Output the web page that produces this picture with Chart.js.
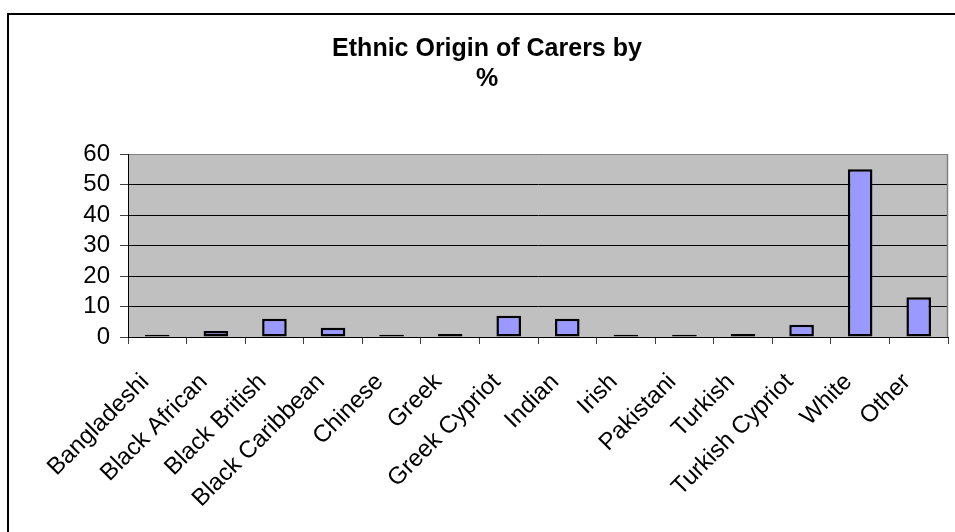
<!DOCTYPE html>
<html>
<head>
<meta charset="utf-8">
<script src="https://cdn.jsdelivr.net/npm/chart.js@4/dist/chart.umd.min.js"></script>
<style>
  html, body { margin: 0; padding: 0; background: #ffffff; }
  #wrap { width: 955px; height: 532px; position: relative; }
</style>
</head>
<body>
<div id="wrap"><canvas id="chart"></canvas></div>
<script>
// Ethnic groups of carers and their share in percent
const categories = ['Bangladeshi', 'Black African', 'Black British', 'Black Caribbean', 'Chinese', 'Greek',
  'Greek Cypriot', 'Indian', 'Irish', 'Pakistani', 'Turkish', 'Turkish Cypriot', 'White', 'Other'];
const percentages = [0.7, 2, 6, 3, 0.7, 1, 7, 6, 0.7, 0.7, 1, 4, 55, 13];
const titleLines = ['Ethnic Origin of Carers by', '%'];
const yTicks = [0, 10, 20, 30, 40, 50, 60];

const FONT = "'Liberation Sans', Arial, Helvetica, sans-serif";

// Grey plot background behind the grid, frame lines around the chart
const framePlugin = {
  id: 'frame',
  beforeDraw(chart) {
    const { ctx, chartArea: a } = chart;
    ctx.save();
    ctx.fillStyle = '#c0c0c0';
    ctx.fillRect(a.left, a.top, a.right - a.left, a.bottom - a.top);
    ctx.restore();
  },
  afterDraw(chart) {
    const { ctx, chartArea: a } = chart;
    ctx.save();
    // right edge of the plot area
    ctx.strokeStyle = '#808080';
    ctx.lineWidth = 1.5;
    ctx.beginPath();
    ctx.moveTo(a.right - 0.5, a.top);
    ctx.lineTo(a.right - 0.5, a.bottom);
    ctx.stroke();
    // outer chart border
    ctx.strokeStyle = '#000000';
    ctx.lineWidth = 2;
    ctx.beginPath();
    ctx.moveTo(8, chart.height + 2);
    ctx.lineTo(8, 14);
    ctx.lineTo(chart.width + 2, 14);
    ctx.stroke();
    ctx.restore();
  }
};

new Chart(document.getElementById('chart'), {
  type: 'bar',
  data: {
    labels: categories,
    datasets: [{
      data: percentages,
      backgroundColor: '#9999ff',
      borderColor: '#000000',
      borderWidth: 2.5,
      borderSkipped: false,
      barPercentage: 0.42,
      categoryPercentage: 1
    }]
  },
  options: {
    responsive: true,
    maintainAspectRatio: false,
    animation: false,
    devicePixelRatio: 1,
    layout: { padding: { left: 26, right: 7, top: 16, bottom: 0 } },
    plugins: {
      legend: { display: false },
      tooltip: { enabled: false },
      title: {
        display: true,
        text: titleLines,
        color: '#000000',
        font: { family: FONT, size: 25, weight: 'bold', lineHeight: '30px' },
        padding: { top: 18, bottom: 60 }
      }
    },
    scales: {
      x: {
        grid: {
          offset: true,
          drawOnChartArea: false,
          drawTicks: true,
          tickLength: 7,
          tickColor: '#404040'
        },
        border: { display: true, color: '#000000', width: 1 },
        ticks: {
          autoSkip: false,
          minRotation: 45,
          maxRotation: 45,
          color: '#000000',
          padding: 24,
          labelOffset: -12,
          font: { family: FONT, size: 24 }
        },
        afterFit(scale) {
          scale.height = 195;
          scale.paddingLeft = 0;
          scale.paddingRight = 0;
        }
      },
      y: {
        min: 0,
        max: 60,
        afterBuildTicks(scale) { scale.ticks = yTicks.map(v => ({ value: v })); },
        grid: {
          color: ctx => (ctx.tick && ctx.tick.value === 60 ? '#808080' : '#000000'),
          lineWidth: 1,
          drawTicks: true,
          tickLength: 8,
          tickColor: '#404040'
        },
        border: { display: true, color: '#000000', width: 1 },
        ticks: {
          autoSkip: false,
          color: '#000000',
          padding: 10,
          font: { family: FONT, size: 24 }
        },
        afterFit(scale) {
          scale.width = 102;
          scale.paddingTop = 0;
          scale.paddingBottom = 0;
        }
      }
    }
  },
  plugins: [framePlugin]
});
</script>
</body>
</html>
